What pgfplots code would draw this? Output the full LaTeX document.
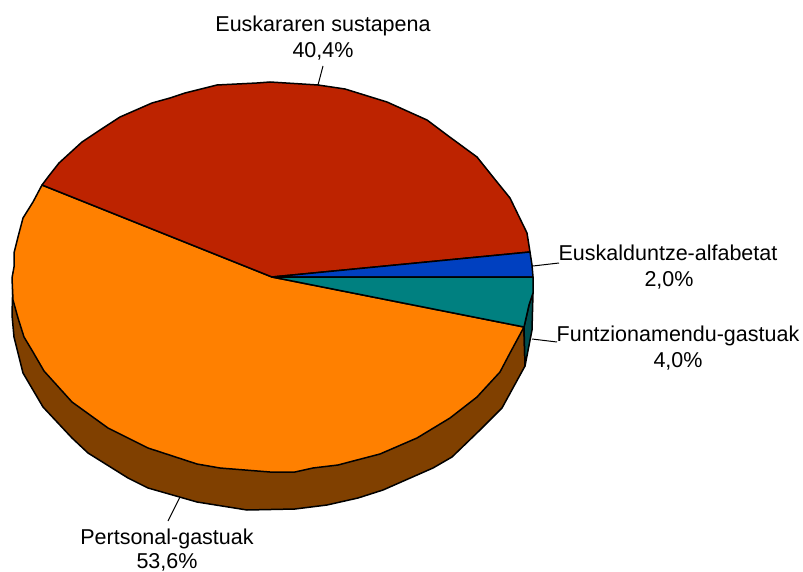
\documentclass[border=0pt]{standalone}
\usepackage{fontspec}
\setmainfont{Liberation Sans}
\usepackage{pgfplots}
\pgfplotsset{compat=1.18}
\definecolor{cred}{HTML}{BD2300}
\definecolor{cblue}{HTML}{0040C0}
\definecolor{cteal}{HTML}{008080}
\definecolor{corange}{HTML}{FF8000}
\definecolor{cbrown}{HTML}{804000}
\definecolor{cdteal}{HTML}{004F50}
\begin{document}
\begin{tikzpicture}
\useasboundingbox (0,0) rectangle (803pt,572pt);
\begin{axis}[
  at={(0,0)}, anchor=south west,
  width=803pt, height=572pt, scale only axis,
  xmin=0, xmax=803, ymin=0, ymax=572, y dir=reverse,
  axis lines=none, clip=false,
  every axis plot/.append style={line width=1.5pt, line join=round},
]
% side of orange slice
\addplot[fill=cbrown, draw=black] coordinates {
(13,280)(12,315)(14,337)(23,373)(43,407)(72,438)(88,453)(128,478)(148,488)(197,502)(247,510)(295,509)(327,505)(358,498)(383,490)(433,468)(452,457)(480,430)(502,408)(525,366)(524,327)(400,340)(13,280)} -- cycle;
% side of teal slice
\addplot[fill=cdteal, draw=black] coordinates {
(533,293)(532,330)(525,366)(524,327)(529,305)} -- cycle;
% top: orange
\addplot[fill=corange, draw=black] coordinates {
(272,277)(42,185)(33,202)(23,218)(18,237)(14,253)(14,267)(12,278)(13,300)(18,318)(24,337)(33,352)(44,371)(72,402)(108,428)(148,448)(197,464)(220,468)(270,472)(295,472)(313,468)(338,465)(357,460)(380,454)(417,438)(450,418)(477,397)(500,372)(510,353)(524,327)} -- cycle;
% top: red
\addplot[fill=cred, draw=black] coordinates {
(272,277)(42,185)(48,177)(59,163)(82,142)(100,130)(120,117)(152,103)(170,98)(185,93)(217,85)(257,83)(270,82)(318,85)(345,89)(387,102)(427,120)(447,135)(477,157)(493,177)(510,198)(527,233)(530,252)} -- cycle;
% top: blue
\addplot[fill=cblue, draw=black] coordinates {
(272,277)(530,252)(532,265)(533,277)} -- cycle;
% top: teal
\addplot[fill=cteal, draw=black] coordinates {
(272,277)(533,277)(533,293)(529,305)(524,327)} -- cycle;
% leader lines
\addplot[draw=black, line width=1pt] coordinates {(318,85)(323,66)};
\addplot[draw=black, line width=1pt] coordinates {(533,266)(559,263)};
\addplot[draw=black, line width=1pt] coordinates {(532,339)(557,342)};
\addplot[draw=black, line width=1pt] coordinates {(180,497)(168,521)};
% labels
\tikzset{lab/.style={anchor=base, inner sep=0pt, font=\fontsize{21.5}{25}\selectfont, text=black}}
\node[lab] at (axis cs:323,32) {Euskararen sustapena};
\node[lab] at (axis cs:323,58) {40,4\%};
\node[lab] at (axis cs:668,260) {Euskalduntze-alfabetat};
\node[lab] at (axis cs:669,286) {2,0\%};
\node[lab] at (axis cs:678,341) {Funtzionamendu-gastuak};
\node[lab] at (axis cs:678,367) {4,0\%};
\node[lab] at (axis cs:167,544) {Pertsonal-gastuak};
\node[lab] at (axis cs:167,568) {53,6\%};
\end{axis}
\end{tikzpicture}
\end{document}
